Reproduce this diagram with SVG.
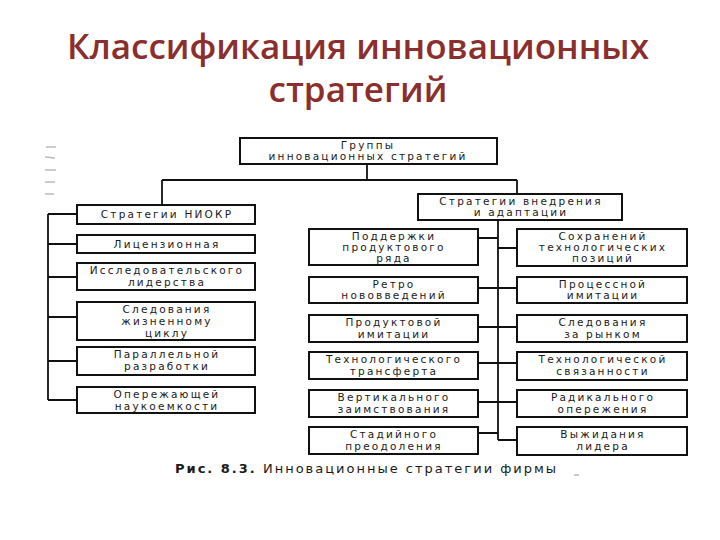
<svg xmlns="http://www.w3.org/2000/svg" width="720" height="540" viewBox="0 0 720 540">
<style>
.title{font-family:"Open Sans","DejaVu Sans",sans-serif;font-size:35px;font-weight:600;fill:#8b2e2e;text-anchor:middle;}
.box{fill:#fff;stroke:#111;stroke-width:2;}
.t{font-family:"DejaVu Sans","Liberation Sans",sans-serif;font-size:10.5px;fill:#1a1a1a;text-anchor:middle;letter-spacing:2.2px;}
.cap{font-family:"DejaVu Sans","Liberation Sans",sans-serif;font-size:13px;fill:#1a1a1a;letter-spacing:2px;}
.ln{fill:none;stroke:#111;stroke-width:1.8;}
.mark{stroke:#bbb;stroke-width:1.5;}
</style>
<rect width="720" height="540" fill="#fff"/>
<text class="title" x="358" y="59">Классификация инновационных</text>
<text class="title" x="358" y="102">стратегий</text>

<g id="artifacts">
<line class="mark" x1="46" y1="147" x2="56" y2="147"/>
<line class="mark" x1="45" y1="157" x2="55" y2="158"/>
<line class="mark" x1="45" y1="170" x2="56" y2="170"/>
<line class="mark" x1="45" y1="182" x2="55" y2="182"/>
<line class="mark" x1="45" y1="194" x2="54" y2="194"/>
</g>

<g id="connectors">
<path class="ln" d="M367 164 V180 M162 180 H517 M162 180 V205 M517 180 V194"/>
<path class="ln" d="M48 214 V400 M48 214 H77 M48 244 H77 M48 277 H77 M48 317 H77 M48 361 H77 M48 400 H77"/>
<path class="ln" d="M498 220 V440 M478 238 H498 M478 288 H498 M478 327 H498 M478 363 H498 M478 402 H498 M478 433 H498 M498 248 H517 M498 288 H517 M498 327 H517 M498 363 H517 M498 402 H517 M498 440 H517"/>
</g>

<g id="n-root"><rect class="box" x="240" y="138" width="257" height="26"/><text class="t" x="368" y="149">Группы</text><text class="t" x="368" y="160">инновационных  стратегий</text></g>

<g id="n-niokr"><rect class="box" x="77" y="205" width="178" height="19"/><text class="t" x="167" y="218">Стратегии НИОКР</text></g>
<g id="n-lic"><rect class="box" x="77" y="235" width="178" height="18"/><text class="t" x="167" y="248">Лицензионная</text></g>
<g id="n-research"><rect class="box" x="77" y="263" width="178" height="27"/><text class="t" x="167" y="274">Исследовательского</text><text class="t" x="167" y="286">лидерства</text></g>
<g id="n-lifecycle"><rect class="box" x="77" y="302" width="178" height="38"/><text class="t" x="167" y="313">Следования</text><text class="t" x="167" y="325">жизненному</text><text class="t" x="167" y="337">циклу</text></g>
<g id="n-parallel"><rect class="box" x="77" y="347" width="178" height="28"/><text class="t" x="167" y="358">Параллельной</text><text class="t" x="167" y="370">разработки</text></g>
<g id="n-advance"><rect class="box" x="77" y="387" width="178" height="26"/><text class="t" x="167" y="398">Опережающей</text><text class="t" x="167" y="410">наукоемкости</text></g>

<g id="n-impl"><rect class="box" x="418" y="194" width="204" height="26"/><text class="t" x="521" y="205">Стратегии внедрения</text><text class="t" x="521" y="216">и адаптации</text></g>

<g id="n-support"><rect class="box" x="309" y="229" width="169" height="36"/><text class="t" x="394" y="240">Поддержки</text><text class="t" x="394" y="251">продуктового</text><text class="t" x="394" y="262">ряда</text></g>
<g id="n-retro"><rect class="box" x="309" y="277" width="169" height="26"/><text class="t" x="394" y="288">Ретро</text><text class="t" x="394" y="299">нововведений</text></g>
<g id="n-prodimit"><rect class="box" x="309" y="315" width="169" height="27"/><text class="t" x="394" y="326">Продуктовой</text><text class="t" x="394" y="338">имитации</text></g>
<g id="n-transfer"><rect class="box" x="309" y="352" width="169" height="27"/><text class="t" x="394" y="363">Технологического</text><text class="t" x="394" y="375">трансферта</text></g>
<g id="n-vertical"><rect class="box" x="309" y="390" width="169" height="27"/><text class="t" x="394" y="401">Вертикального</text><text class="t" x="394" y="413">заимствования</text></g>
<g id="n-stage"><rect class="box" x="309" y="427" width="169" height="27"/><text class="t" x="394" y="438">Стадийного</text><text class="t" x="394" y="450">преодоления</text></g>

<g id="n-keep"><rect class="box" x="517" y="229" width="170" height="37"/><text class="t" x="603" y="240">Сохранений</text><text class="t" x="603" y="251">технологических</text><text class="t" x="603" y="262">позиций</text></g>
<g id="n-process"><rect class="box" x="517" y="277" width="170" height="26"/><text class="t" x="603" y="288">Процессной</text><text class="t" x="603" y="299">имитации</text></g>
<g id="n-market"><rect class="box" x="517" y="315" width="170" height="27"/><text class="t" x="603" y="326">Следования</text><text class="t" x="603" y="338">за рынком</text></g>
<g id="n-link"><rect class="box" x="517" y="352" width="170" height="28"/><text class="t" x="603" y="363">Технологической</text><text class="t" x="603" y="375">связанности</text></g>
<g id="n-radical"><rect class="box" x="517" y="390" width="170" height="27"/><text class="t" x="603" y="401">Радикального</text><text class="t" x="603" y="413">опережения</text></g>
<g id="n-wait"><rect class="box" x="517" y="427" width="170" height="28"/><text class="t" x="603" y="438">Выжидания</text><text class="t" x="603" y="450">лидера</text></g>

<text class="cap" x="175" y="473"><tspan font-weight="bold">Рис. 8.3.</tspan> Инновационные стратегии фирмы</text>
<line class="mark" x1="574" y1="475" x2="579" y2="475" stroke="#999"/>
</svg>
